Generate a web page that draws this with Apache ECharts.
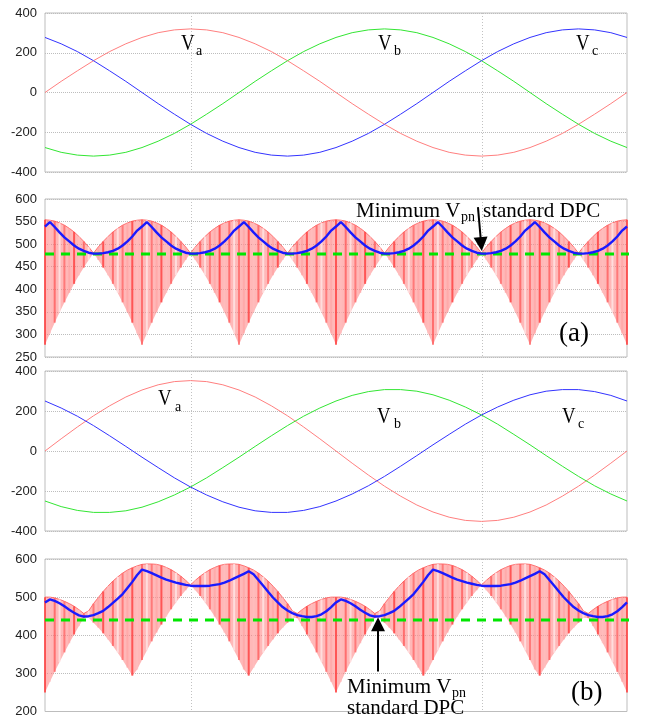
<!DOCTYPE html>
<html><head><meta charset="utf-8">
<script src="https://cdn.jsdelivr.net/npm/echarts@6/dist/echarts.min.js"></script>
<style>html,body{margin:0;padding:0;background:#fff}#c{width:670px;height:718px}</style>
</head><body><div id="c"></div>
<script>
// x positions are electrical angle in degrees (0..360)
const PHASE_STEP = 10;   // degrees between phase-voltage samples
const STEP = 3;          // degrees between Vpn / envelope samples
const vgridX = [90, 270];

// ---- Panel (a) top: phase voltages ----
const va1 = [0,56,109,160,206,245,277,301,315,320,315,301,277,245,206,160,109,56,0,-56,-109,-160,-206,-245,-277,-301,-315,-320,-315,-301,-277,-245,-206,-160,-109,-56,0];
const vb1 = [-277,-301,-315,-320,-315,-301,-277,-245,-206,-160,-109,-56,0,56,109,160,206,245,277,301,315,320,315,301,277,245,206,160,109,56,0,-56,-109,-160,-206,-245,-277];
const vc1 = [277,245,206,160,109,56,0,-56,-109,-160,-206,-245,-277,-301,-315,-320,-315,-301,-277,-245,-206,-160,-109,-56,0,56,109,160,206,245,277,301,315,320,315,301,277];

// ---- Panel (a) bottom: rectified voltage envelope and Vpn ----
const upper2 = [554,553,551,547,542,535,527,517,506,494,480,494,506,517,527,535,542,547,551,553,
554,553,551,547,542,535,527,517,506,494,480,494,506,517,527,535,542,547,551,553,
554,553,551,547,542,535,527,517,506,494,480,494,506,517,527,535,542,547,551,553,
554,553,551,547,542,535,527,517,506,494,480,494,506,517,527,535,542,547,551,553,
554,553,551,547,542,535,527,517,506,494,480,494,506,517,527,535,542,547,551,553,
554,553,551,547,542,535,527,517,506,494,480,494,506,517,527,535,542,547,551,553,554];
const lower2 = [277,302,326,349,371,392,412,431,448,465,480,465,448,431,412,392,371,349,326,302,
277,302,326,349,371,392,412,431,448,465,480,465,448,431,412,392,371,349,326,302,
277,302,326,349,371,392,412,431,448,465,480,465,448,431,412,392,371,349,326,302,
277,302,326,349,371,392,412,431,448,465,480,465,448,431,412,392,371,349,326,302,
277,302,326,349,371,392,412,431,448,465,480,465,448,431,412,392,371,349,326,302,
277,302,326,349,371,392,412,431,448,465,480,465,448,431,412,392,371,349,326,302,277];
const vpn2 = [539,549,538,526,515,506,497,490,485,481,479,479,480,482,485,490,497,506,517,530,
539,549,538,526,515,506,497,490,485,481,479,479,480,482,485,490,497,506,517,530,
539,549,538,526,515,506,497,490,485,481,479,479,480,482,485,490,497,506,517,530,
539,549,538,526,515,506,497,490,485,481,479,479,480,482,485,490,497,506,517,530,
539,549,538,526,515,506,497,490,485,481,479,479,480,482,485,490,497,506,517,530,
539,549,538,526,515,506,497,490,485,481,479,479,480,482,485,490,497,506,517,530,539];

// ---- Panel (b) top: unbalanced phase voltages ----
const va3 = [0,61,120,176,226,270,305,331,347,352,347,331,305,270,226,176,120,61,0,-61,-120,-176,-226,-270,-305,-331,-347,-352,-347,-331,-305,-270,-226,-176,-120,-61,0];
const vb3 = [-250,-278,-297,-307,-307,-299,-281,-254,-220,-180,-134,-83,-31,23,76,127,174,215,250,278,297,307,307,299,281,254,220,180,134,83,31,-23,-76,-127,-174,-215,-250];
const vc3 = [250,215,174,127,76,23,-31,-83,-134,-180,-220,-254,-281,-299,-307,-307,-297,-278,-250,-215,-174,-127,-76,-23,31,83,134,180,220,254,281,299,307,307,297,278,250];

// ---- Panel (b) bottom ----
const upper4 = [500,500,498,494,489,483,476,467,457,464,483,499,515,529,542,553,563,571,577,582,586,587,587,586,583,578,572,564,555,544,532,544,555,564,572,578,583,586,587,587,586,582,577,571,563,553,542,529,515,499,483,464,457,467,476,483,489,494,498,500,500,
500,498,494,489,483,476,467,457,464,483,499,515,529,542,553,563,571,577,582,586,587,587,586,583,578,572,564,555,544,532,544,555,564,572,578,583,586,587,587,586,582,577,571,563,553,542,529,515,499,483,464,457,467,476,483,489,494,498,500,500];
const lower4 = [250,278,304,330,355,379,402,424,445,446,433,420,405,389,372,354,335,315,294,310,335,360,384,407,428,449,468,486,503,518,532,518,503,486,468,449,428,407,384,360,335,310,294,315,335,354,372,389,405,420,433,446,445,424,402,379,355,330,304,278,250,
278,304,330,355,379,402,424,445,446,433,420,405,389,372,354,335,315,294,310,335,360,384,407,428,449,468,486,503,518,532,518,503,486,468,449,428,407,384,360,335,310,294,315,335,354,372,389,405,420,433,446,445,424,402,379,355,330,304,278,250];
const vpn4 = [486,494,490,484,476,467,459,452,449,450,453,458,464,474,485,496,508,524,540,558,572,568,563,557,551,546,542,538,535,532,530,529,529,529,530,532,534,538,543,549,555,561,568,560,545,530,514,499,486,474,465,458,453,450,448,448,450,455,463,474,486,
494,490,484,476,467,459,452,449,450,453,458,464,474,485,496,508,524,540,558,572,568,563,557,551,546,542,538,535,532,530,529,529,529,530,532,534,538,543,549,555,561,568,560,545,530,514,499,486,474,465,458,453,450,448,448,450,455,463,474,486];

// minimum Vpn of standard DPC (green dashed)
const dpcMin = [478, 440];
const dpcLineX = [0, 374];

// y axes: [min, max, interval]
const yAxes = [[-400,400,200],[250,600,50],[-400,400,200],[200,600,100]];

const chart = echarts.init(document.getElementById('c'));
const gridPos = [
  {top:13, height:159},
  {top:199, height:158},
  {top:371, height:160},
  {top:559, height:160}
];

function lineSeries(gi, arr, step, color, width, z){
  return {type:'line', xAxisIndex:gi, yAxisIndex:gi, data:arr.map((v,i)=>[i*step, v]),
    symbol:'none', showSymbol:false, silent:true, z:z,
    lineStyle:{color:color, width:width}, itemStyle:{color:color}};
}
function vgridSeries(gi){
  const ymin = yAxes[gi][0];
  return {type:'custom', xAxisIndex:gi, yAxisIndex:gi, z:1, silent:true,
    data: vgridX.map(x=>[x, ymin]),
    renderItem:(params, api)=>{
      const p = api.coord([api.value(0), api.value(1)]);
      const cs = params.coordSys;
      const x = Math.round(p[0]) + 0.5;
      return {type:'line', shape:{x1:x, y1:cs.y, x2:x, y2:cs.y+cs.height},
        style:{stroke:'#c2c2c2', lineWidth:1, lineDash:[1,2]}};
    }};
}
const shades = ['rgba(255,60,60,0.8)','rgba(255,190,190,0.7)','rgba(255,80,80,0.7)','rgba(255,230,230,0.8)','rgba(255,100,100,0.75)','rgba(255,160,160,0.6)'];
function bandSeries(gi, lo, hi){
  return {type:'custom', xAxisIndex:gi, yAxisIndex:gi, z:2, silent:true,
    data: hi.map((h,i)=>[i*STEP, lo[i], h]),
    encode:{x:0, y:[1,2]},
    renderItem:(params, api)=>{
      const i = params.dataIndex;
      const x = api.value(0);
      const top = api.coord([x, api.value(2)]);
      const bot = api.coord([x, api.value(1)]);
      const children = [];
      if (i === 0) {
        const pts = [], tops = [];
        for (let k=0;k<hi.length;k++){ const q = api.coord([k*STEP, hi[k]]); pts.push(q); tops.push(q); }
        for (let k=lo.length-1;k>=0;k--) pts.push(api.coord([k*STEP, lo[k]]));
        children.push({type:'polygon', shape:{points:pts}, style:{fill:'rgba(255,125,125,0.55)'}});
        children.push({type:'polyline', shape:{points:tops}, style:{stroke:'rgba(255,100,100,0.9)', lineWidth:1, fill:null}});
      }
      children.push({type:'line', shape:{x1:top[0], y1:top[1], x2:bot[0], y2:bot[1]},
        style:{stroke:shades[i%shades.length], lineWidth:2}});
      return {type:'group', children:children};
    }};
}
function dpcSeries(gi, val, arrow){
  return {type:'line', xAxisIndex:gi, yAxisIndex:gi, data:dpcLineX.map(x=>[x, val]),
    symbol:'none', showSymbol:false, clip:false, silent:true, z:4,
    lineStyle:{color:'#00e600', width:3, type:[9,7]},
    markLine:{silent:true, symbol:['none','triangle'], symbolSize:14, animation:false,
      label:{show:false}, lineStyle:{color:'#000', width:2, type:'solid'}, itemStyle:{color:'#000'},
      emphasis:{disabled:true},
      data:[[{coord:arrow[0]},{coord:arrow[1]}]]}};
}

const series = [];
for (let g=0; g<4; g++) series.push(vgridSeries(g));
series.push(lineSeries(0, va1, PHASE_STEP, '#ff7f7f', 1, 3));
series.push(lineSeries(0, vb1, PHASE_STEP, '#33e633', 1, 3));
series.push(lineSeries(0, vc1, PHASE_STEP, '#3333ff', 1, 3));
series.push(bandSeries(1, lower2, upper2));
series.push(dpcSeries(1, dpcMin[0], [[267.8, 582],[269.8, 500]]));
series.push(lineSeries(1, vpn2, STEP, '#1a1aff', 2.4, 5));
series.push(lineSeries(2, va3, PHASE_STEP, '#ff7f7f', 1, 3));
series.push(lineSeries(2, vb3, PHASE_STEP, '#33e633', 1, 3));
series.push(lineSeries(2, vc3, PHASE_STEP, '#3333ff', 1, 3));
series.push(bandSeries(3, lower4, upper4));
series.push(dpcSeries(3, dpcMin[1], [[206, 305],[206, 429]]));
series.push(lineSeries(3, vpn4, STEP, '#1a1aff', 2.4, 5));

// annotation texts: [text, left, baseline, fontSize, scaleX]
const texts = [
  ['V',181,52,23.5,0.8],['a',196,56,14,1],
  ['V',378,52,23.5,0.8],['b',394,56,14,1],
  ['V',576,52,23.5,0.8],['c',592,56,14,1],
  ['V',158,407,23.5,0.8],['a',175,412,14,1],
  ['V',377,425,23.5,0.8],['b',394,429,14,1],
  ['V',562,425,23.5,0.8],['c',578,429,14,1],
  ['Minimum V',356,218,21,1],['pn',461,222,14,1],['standard DPC',483,218,21,1],
  ['(a)',559,343,27,1],
  ['Minimum V',347,694,21,1],['pn',452,698,14,1],
  ['standard DPC',347,715,21,1],
  ['(b)',571,702,27,1]
];
const graphic = texts.map(t=>({type:'text', x:t[1], y:t[2] - 0.33*t[3], scaleX:t[4], silent:true, z:100,
  style:{text:t[0], font:t[3]+'px "Liberation Serif", "Times New Roman", serif', fill:'#000',
    align:'left', textAlign:'left', verticalAlign:'middle', textVerticalAlign:'middle'}}));

chart.setOption({
  animation:false,
  backgroundColor:'#fff',
  grid: gridPos.map(p=>({left:45, width:582, top:p.top, height:p.height, show:true,
    borderColor:'#bdbdbd', borderWidth:1, backgroundColor:'transparent', containLabel:false})),
  xAxis: gridPos.map((p,i)=>({type:'value', gridIndex:i, min:0, max:360, show:false})),
  yAxis: yAxes.map((a,i)=>({type:'value', gridIndex:i, min:a[0], max:a[1], interval:a[2],
    axisLine:{show:false}, axisTick:{show:false},
    axisLabel:{color:'#222', fontSize:13, fontFamily:'"Liberation Sans", Arial, sans-serif', margin:8},
    splitLine:{show:true, lineStyle:{type:'dotted', color:'#bdbdbd', width:1}}})),
  series: series,
  graphic: graphic
});
</script>
</body></html>
